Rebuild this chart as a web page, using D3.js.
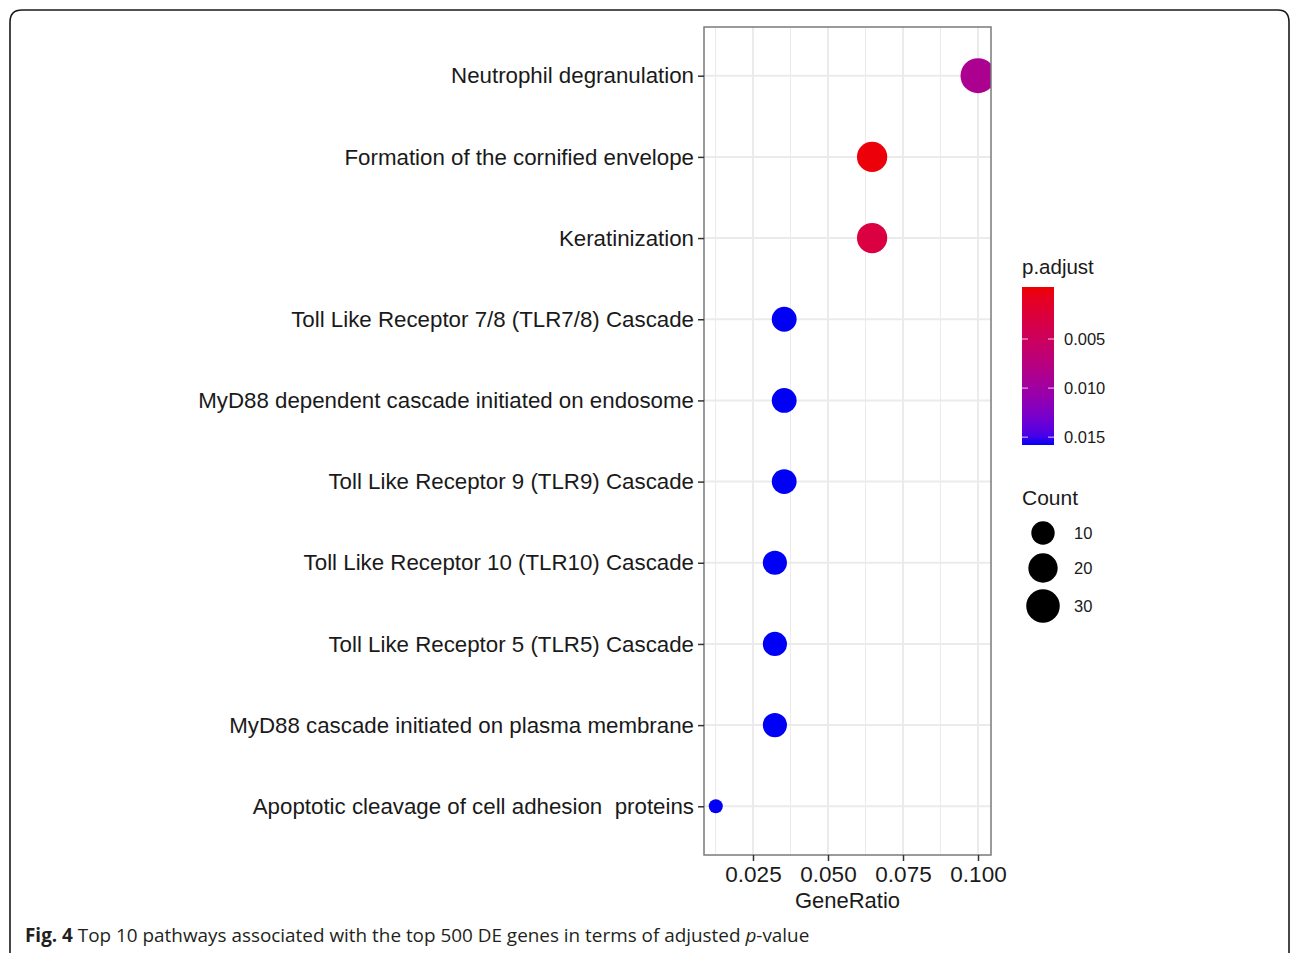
<!DOCTYPE html>
<html>
<head>
<meta charset="utf-8">
<script src="https://cdn.jsdelivr.net/npm/d3@7"></script>
<style>
  html, body { margin: 0; padding: 0; background: #fff; }
  svg { display: block; }
  text { white-space: pre; }
</style>
</head>
<body>
<svg id="chart" width="1290" height="953"></svg>
<script>
// ---- data ----
const pathways = [
  "Neutrophil degranulation",
  "Formation of the cornified envelope",
  "Keratinization",
  "Toll Like Receptor 7/8 (TLR7/8) Cascade",
  "MyD88 dependent cascade initiated on endosome",
  "Toll Like Receptor 9 (TLR9) Cascade",
  "Toll Like Receptor 10 (TLR10) Cascade",
  "Toll Like Receptor 5 (TLR5) Cascade",
  "MyD88 cascade initiated on plasma membrane",
  "Apoptotic cleavage of cell adhesion  proteins"
];
const geneRatio = [0.1000, 0.0647, 0.0647, 0.0354, 0.0354, 0.0354, 0.0323, 0.0323, 0.0323, 0.0126];
const counts    = [34, 22, 22, 12, 12, 12, 11, 11, 11, 4];
const pAdjust   = [0.0088, 0.0000, 0.0030, 0.0158, 0.0158, 0.0158, 0.0158, 0.0158, 0.0158, 0.0158];
const xTicks    = [0.025, 0.050, 0.075, 0.100];
const xMinor    = [0.0125, 0.0375, 0.0625, 0.0875];
const colorTicks = [0.005, 0.010, 0.015];
const sizeTicks  = [10, 20, 30];

const svg = d3.select("#chart");
const FONT = "'Liberation Sans', Arial, Helvetica, sans-serif";

// outer frame
svg.append("path")
  .attr("d", "M10,960 L10,22 Q10,10 22,10 L1278,10 Q1289,10 1289,22 L1289,960")
  .attr("fill", "none").attr("stroke", "#1a1a1a").attr("stroke-width", 1.6);

// ---- scales ----
const panel = {left: 704, right: 991, top: 27, bottom: 855};
const x = d3.scaleLinear().domain([0.00867, 0.10433]).range([panel.left, panel.right]);
const y = d3.scalePoint().domain(pathways).range([panel.top, panel.bottom]).padding(0.6);
const pDomain = [-0.0003, 0.0158];
const color = d3.scaleSequential(d3.interpolateLab("#ee0000", "#0000f6")).domain(pDomain);
const sizeMin = 4, sizeMax = 34;
const radius = c => 7 + 10.5 * Math.sqrt(Math.max(0, (c - sizeMin) / (sizeMax - sizeMin)));

// ---- panel ----
const g = svg.append("g");
g.append("rect").attr("x", panel.left).attr("y", panel.top)
  .attr("width", panel.right - panel.left).attr("height", panel.bottom - panel.top)
  .attr("fill", "#fff");

g.selectAll(".minor").data(xMinor).join("line")
  .attr("x1", d => x(d)).attr("x2", d => x(d))
  .attr("y1", panel.top).attr("y2", panel.bottom)
  .attr("stroke", "#ebebeb").attr("stroke-width", 1);
g.selectAll(".vmajor").data(xTicks).join("line")
  .attr("x1", d => x(d)).attr("x2", d => x(d))
  .attr("y1", panel.top).attr("y2", panel.bottom)
  .attr("stroke", "#ebebeb").attr("stroke-width", 2);
g.selectAll(".hmajor").data(pathways).join("line")
  .attr("x1", panel.left).attr("x2", panel.right)
  .attr("y1", d => y(d)).attr("y2", d => y(d))
  .attr("stroke", "#ebebeb").attr("stroke-width", 2);

// points
svg.append("clipPath").attr("id", "pclip").append("rect")
  .attr("x", panel.left).attr("y", panel.top)
  .attr("width", panel.right - panel.left).attr("height", panel.bottom - panel.top);

g.append("g").attr("clip-path", "url(#pclip)")
  .selectAll("circle").data(pathways).join("circle")
  .attr("cx", (d, i) => x(geneRatio[i]))
  .attr("cy", d => y(d))
  .attr("r", (d, i) => radius(counts[i]))
  .attr("fill", (d, i) => color(pAdjust[i]));

g.append("rect").attr("x", panel.left).attr("y", panel.top)
  .attr("width", panel.right - panel.left).attr("height", panel.bottom - panel.top)
  .attr("fill", "none").attr("stroke", "#7a7a7a").attr("stroke-width", 1.5);

// axes
const xAxis = d3.axisBottom(x).tickValues(xTicks).tickFormat(d3.format(".3f")).tickSize(6).tickPadding(5);
const xg = svg.append("g").attr("transform", `translate(0,${panel.bottom})`).call(xAxis);
xg.select(".domain").remove();
xg.selectAll("line").attr("stroke", "#333").attr("stroke-width", 1.5);
xg.selectAll("text").attr("fill", "#1a1a1a").style("font-family", FONT).style("font-size", "22.5px");

const yAxis = d3.axisLeft(y).tickSize(6).tickPadding(4);
const yg = svg.append("g").attr("transform", `translate(${panel.left},0)`).call(yAxis);
yg.select(".domain").remove();
yg.selectAll("line").attr("stroke", "#333").attr("stroke-width", 1.5);
yg.selectAll("text").attr("fill", "#1a1a1a").style("font-family", FONT).style("font-size", "22.3px");

svg.append("text").attr("x", (panel.left + panel.right) / 2).attr("y", 908)
  .attr("text-anchor", "middle").attr("fill", "#1a1a1a")
  .style("font-family", FONT).style("font-size", "22px").text("GeneRatio");

// ---- colour legend ----
const cb = {x: 1022, y: 287, w: 32, h: 158};
const cbScale = d3.scaleLinear().domain(pDomain).range([cb.y, cb.y + cb.h]);
const defs = svg.append("defs");
const grad = defs.append("linearGradient").attr("id", "cgrad")
  .attr("x1", 0).attr("y1", 0).attr("x2", 0).attr("y2", 1);
d3.range(0, 1.0001, 0.05).forEach(t => {
  grad.append("stop").attr("offset", t)
    .attr("stop-color", color(pDomain[0] + t * (pDomain[1] - pDomain[0])));
});
svg.append("text").attr("x", cb.x).attr("y", 274).attr("fill", "#1a1a1a")
  .style("font-family", FONT).style("font-size", "20.5px").text("p.adjust");
svg.append("rect").attr("x", cb.x).attr("y", cb.y).attr("width", cb.w).attr("height", cb.h)
  .attr("fill", "url(#cgrad)");
colorTicks.forEach(v => {
  const yy = cbScale(v);
  svg.append("line").attr("x1", cb.x).attr("x2", cb.x + 6).attr("y1", yy).attr("y2", yy)
    .attr("stroke", "#fff").attr("stroke-width", 1).attr("opacity", 0.8);
  svg.append("line").attr("x1", cb.x + cb.w - 6).attr("x2", cb.x + cb.w).attr("y1", yy).attr("y2", yy)
    .attr("stroke", "#fff").attr("stroke-width", 1).attr("opacity", 0.8);
  svg.append("text").attr("x", 1064).attr("y", yy + 6).attr("fill", "#1a1a1a")
    .style("font-family", FONT).style("font-size", "16.5px").text(d3.format(".3f")(v));
});

// ---- size legend ----
svg.append("text").attr("x", 1022).attr("y", 505).attr("fill", "#1a1a1a")
  .style("font-family", FONT).style("font-size", "21px").text("Count");
const sizeY = d3.scaleOrdinal().domain(sizeTicks).range([533, 568, 606]);
sizeTicks.forEach(v => {
  svg.append("circle").attr("cx", 1043).attr("cy", sizeY(v)).attr("r", radius(v)).attr("fill", "#000");
  svg.append("text").attr("x", 1074).attr("y", sizeY(v) + 6).attr("fill", "#1a1a1a")
    .style("font-family", FONT).style("font-size", "16.5px").text(v);
});

// ---- caption ----
const cap = svg.append("text").attr("x", 25).attr("y", 942).attr("fill", "#231f20")
  .style("font-family", "'Open Sans', 'Noto Sans', sans-serif").style("font-size", "18.9px");
cap.append("tspan").style("font-weight", "bold").text("Fig. 4");
cap.append("tspan").text(" Top 10 pathways associated with the top 500 DE genes in terms of adjusted ");
cap.append("tspan").style("font-style", "italic").text("p");
cap.append("tspan").text("-value");
</script>
</body>
</html>
